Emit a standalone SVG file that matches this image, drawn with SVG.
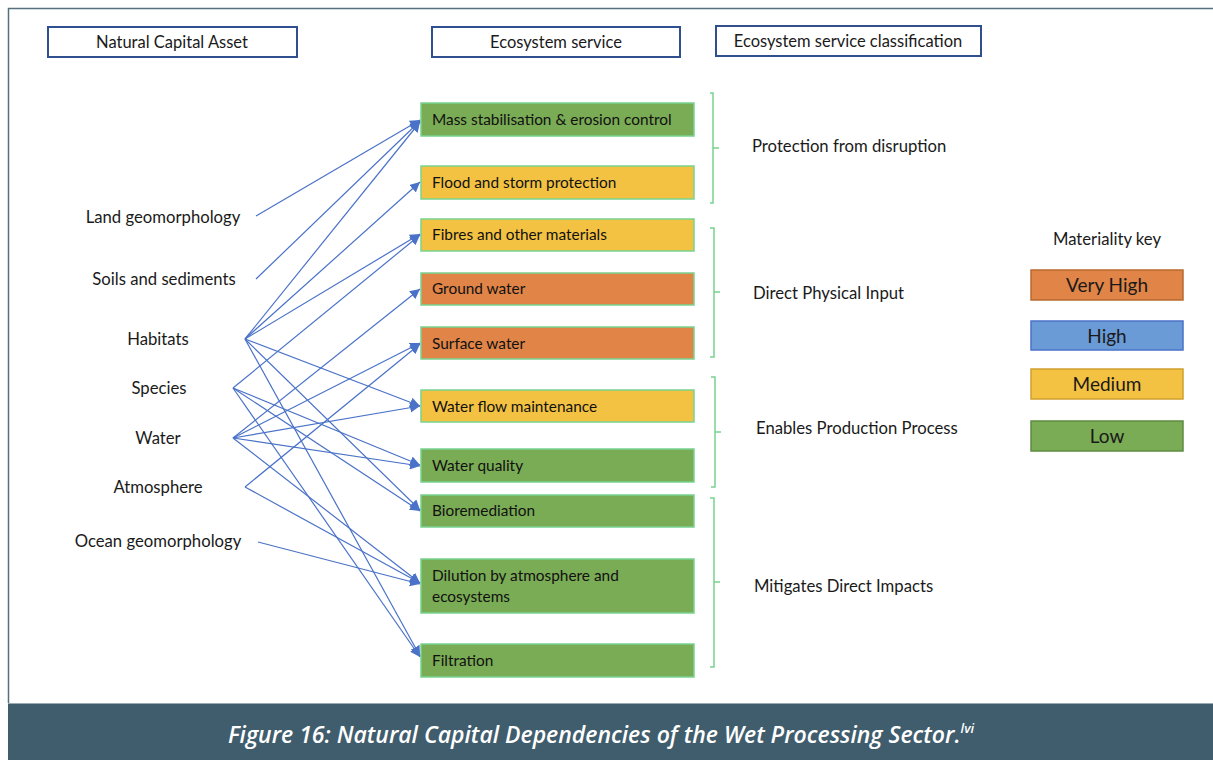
<svg xmlns="http://www.w3.org/2000/svg" width="1213" height="760" viewBox="0 0 1213 760">
<style>
.hdr{fill:#fff;stroke:#2f4f8f;stroke-width:2}
.ht{font-family:Lato,"Open Sans",sans-serif;font-size:16.5px;fill:#1a1a1a;text-anchor:middle}
.lt{font-family:Lato,"Open Sans",sans-serif;font-size:16.7px;fill:#1a1a1a;text-anchor:middle}
.bt{font-family:Lato,"Open Sans",sans-serif;font-size:15.4px;fill:#111}
.ct{font-family:Lato,"Open Sans",sans-serif;font-size:16.7px;fill:#1a1a1a}
.kt{font-family:Lato,"Open Sans",sans-serif;font-size:19px;fill:#1a1a1a;text-anchor:middle}
.g{fill:#7aab55;stroke:#78d48f;stroke-width:1.5}
.y{fill:#f4c243;stroke:#78d48f;stroke-width:1.5}
.o{fill:#e08447;stroke:#78d48f;stroke-width:1.5}
.br{fill:none;stroke:#78d48f;stroke-width:1.5}
.c line{stroke:#4a72c8;stroke-width:1.2;marker-end:url(#ah)}
</style>
<defs>
<marker id="ah" viewBox="0 0 10 10" refX="10" refY="5" markerWidth="10" markerHeight="10" markerUnits="userSpaceOnUse" orient="auto">
<path d="M0,0 L10,5 L0,10 z" fill="#4a72c8"/>
</marker>
</defs>
<rect x="0" y="0" width="1213" height="760" fill="#fff"/>
<path d="M8.5,703 V8.5 H1213" fill="none" stroke="#56707f" stroke-width="1.5"/>
<rect x="8" y="703" width="1205" height="57" fill="#3f5d6d"/>
<line x1="8" y1="703.5" x2="1213" y2="703.5" stroke="#9aa8b0" stroke-width="1"/>
<text x="228" y="743" font-family="'Open Sans',sans-serif" font-style="italic" font-weight="600" font-size="23" fill="#fff">Figure 16: Natural Capital Dependencies of the Wet Processing Sector.<tspan font-size="13" dy="-10">lvi</tspan></text>

<g id="hdr-asset"><rect class="hdr" x="48" y="27" width="249" height="30"/><text class="ht" x="172" y="48">Natural Capital Asset</text></g>
<g id="hdr-service"><rect class="hdr" x="432" y="27" width="248" height="30"/><text class="ht" x="556" y="48">Ecosystem service</text></g>
<g id="hdr-class"><rect class="hdr" x="716" y="26" width="265" height="30"/><text class="ht" x="848" y="47">Ecosystem service classification</text></g>

<g id="asset-land"><text class="lt" x="163" y="223">Land geomorphology</text></g>
<g id="asset-soils"><text class="lt" x="164" y="285">Soils and sediments</text></g>
<g id="asset-habitats"><text class="lt" x="158" y="345">Habitats</text></g>
<g id="asset-species"><text class="lt" x="159" y="394">Species</text></g>
<g id="asset-water"><text class="lt" x="158" y="444">Water</text></g>
<g id="asset-atmosphere"><text class="lt" x="158" y="493">Atmosphere</text></g>
<g id="asset-ocean"><text class="lt" x="158" y="547">Ocean geomorphology</text></g>

<g id="svc-mass"><rect class="g" x="421" y="103" width="273" height="33"/><text class="bt" x="432" y="125">Mass stabilisation &amp; erosion control</text></g>
<g id="svc-flood"><rect class="y" x="421" y="166" width="273" height="33"/><text class="bt" x="432" y="188">Flood and storm protection</text></g>
<g id="svc-fibres"><rect class="y" x="421" y="219" width="273" height="32"/><text class="bt" x="432" y="240">Fibres and other materials</text></g>
<g id="svc-ground"><rect class="o" x="421" y="273" width="273" height="32"/><text class="bt" x="432" y="294">Ground water</text></g>
<g id="svc-surface"><rect class="o" x="421" y="327" width="273" height="32"/><text class="bt" x="432" y="349">Surface water</text></g>
<g id="svc-flow"><rect class="y" x="421" y="390" width="273" height="32"/><text class="bt" x="432" y="412">Water flow maintenance</text></g>
<g id="svc-quality"><rect class="g" x="421" y="449" width="273" height="33"/><text class="bt" x="432" y="471">Water quality</text></g>
<g id="svc-bio"><rect class="g" x="421" y="495" width="273" height="32"/><text class="bt" x="432" y="516">Bioremediation</text></g>
<g id="svc-dilution"><rect class="g" x="421" y="559" width="273" height="54"/><text class="bt" x="432" y="581">Dilution by atmosphere and</text><text class="bt" x="432" y="602">ecosystems</text></g>
<g id="svc-filtration"><rect class="g" x="421" y="644" width="273" height="33"/><text class="bt" x="432" y="666">Filtration</text></g>

<g id="cls-protection"><path class="br" d="M710,93 H713 V203 H710 M713,148 H719"/><text class="ct" x="752" y="152">Protection from disruption</text></g>
<g id="cls-direct"><path class="br" d="M710,228 H714 V357 H710 M714,292 H720"/><text class="ct" x="753" y="299">Direct Physical Input</text></g>
<g id="cls-enables"><path class="br" d="M711,377 H715 V487 H711 M715,432 H721"/><text class="ct" x="756" y="434">Enables Production Process</text></g>
<g id="cls-mitigates"><path class="br" d="M710,498 H714 V667 H710 M714,582 H720"/><text class="ct" x="754" y="592">Mitigates Direct Impacts</text></g>

<g id="key">
<text class="ct" x="1107" y="245" text-anchor="middle" font-size="16">Materiality key</text>
<g id="key-veryhigh"><rect x="1031" y="270" width="152" height="30" fill="#e08447" stroke="#b8692f" stroke-width="1.5"/><text class="kt" x="1107" y="292">Very High</text></g>
<g id="key-high"><rect x="1031" y="321" width="152" height="29" fill="#6b9bd6" stroke="#4a72c8" stroke-width="1.5"/><text class="kt" x="1107" y="343">High</text></g>
<g id="key-medium"><rect x="1031" y="369" width="152" height="30" fill="#f4c243" stroke="#cfa02e" stroke-width="1.5"/><text class="kt" x="1107" y="391">Medium</text></g>
<g id="key-low"><rect x="1031" y="421" width="152" height="30" fill="#7aab55" stroke="#5e8c40" stroke-width="1.5"/><text class="kt" x="1107" y="443">Low</text></g>
</g>

<g id="connectors" class="c">
<line x1="256" y1="216" x2="420" y2="120"/>
<line x1="256" y1="279" x2="420" y2="121"/>
<line x1="245" y1="339" x2="420" y2="122"/>
<line x1="245" y1="339" x2="420" y2="182"/>
<line x1="245" y1="339" x2="420" y2="234"/>
<line x1="233" y1="388" x2="420" y2="235"/>
<line x1="233" y1="438" x2="420" y2="289"/>
<line x1="233" y1="438" x2="420" y2="343"/>
<line x1="245" y1="487" x2="420" y2="344"/>
<line x1="245" y1="339" x2="420" y2="406"/>
<line x1="233" y1="438" x2="420" y2="406"/>
<line x1="233" y1="388" x2="420" y2="465"/>
<line x1="233" y1="438" x2="420" y2="466"/>
<line x1="245" y1="339" x2="420" y2="510"/>
<line x1="233" y1="388" x2="420" y2="511"/>
<line x1="233" y1="438" x2="420" y2="583"/>
<line x1="245" y1="487" x2="420" y2="583"/>
<line x1="258" y1="542" x2="420" y2="584"/>
<line x1="245" y1="339" x2="420" y2="656"/>
<line x1="233" y1="388" x2="420" y2="657"/>
</g>
</svg>
